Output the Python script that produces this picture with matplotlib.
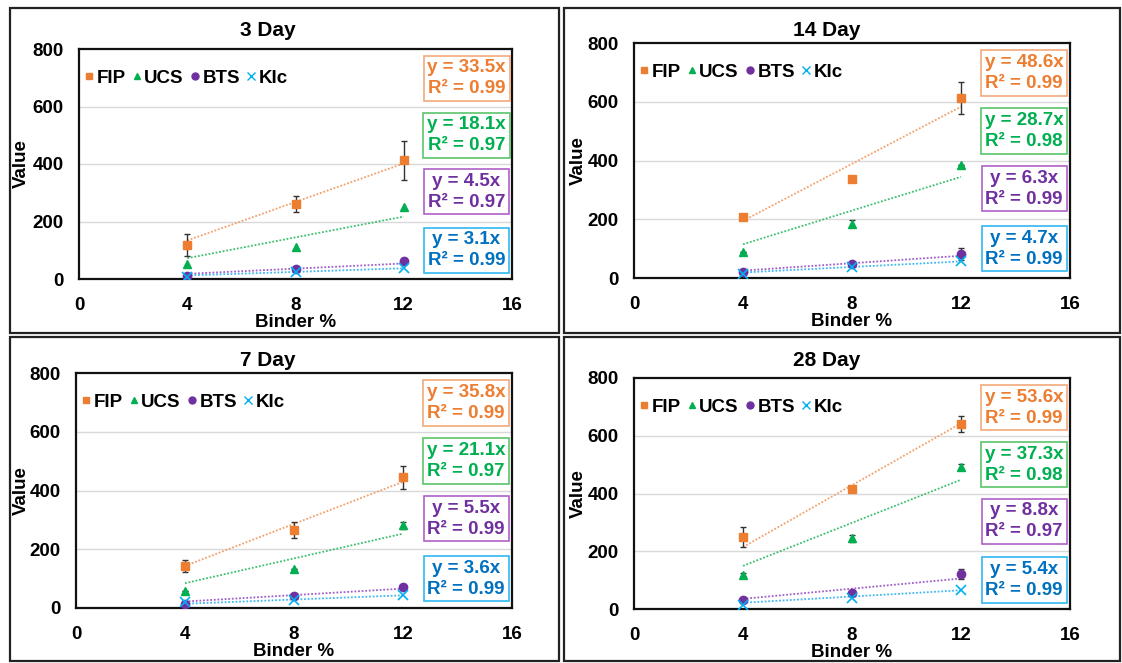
import matplotlib
matplotlib.use("Agg")
import matplotlib.pyplot as plt
from matplotlib.patches import Rectangle
from matplotlib.lines import Line2D

plt.rcParams['font.family'] = ['Liberation Sans', 'DejaVu Sans']
plt.rcParams['font.weight'] = 'bold'

W, H = 1122, 663

binder = [4, 8, 12]
legend_labels = ["FIP", "UCS", "BTS", "KIc"]

titles = ["3 Day", "14 Day", "7 Day", "28 Day"]

fip_3 = [119, 262, 413]
fip_3_err = [39, 28, 67]
ucs_3 = [52, 110, 249]
ucs_3_err = [0, 0, 0]
bts_3 = [12, 35, 61]
bts_3_err = [0, 0, 0]
kic_3 = [6, 23, 38]
slopes_3 = [33.5, 18.1, 4.5, 3.1]
r2_3 = [0.99, 0.97, 0.97, 0.99]

fip_14 = [207, 337, 613]
fip_14_err = [8, 0, 55]
ucs_14 = [87, 184, 384]
ucs_14_err = [0, 12, 0]
bts_14 = [20, 49, 82]
bts_14_err = [0, 0, 20]
kic_14 = [15, 36, 57]
slopes_14 = [48.6, 28.7, 6.3, 4.7]
r2_14 = [0.99, 0.98, 0.99, 0.99]

fip_7 = [144, 266, 445]
fip_7_err = [20, 28, 40]
ucs_7 = [59, 134, 282]
ucs_7_err = [0, 0, 12]
bts_7 = [15, 40, 73]
bts_7_err = [0, 0, 0]
kic_7 = [19, 28, 43]
slopes_7 = [35.8, 21.1, 5.5, 3.6]
r2_7 = [0.99, 0.97, 0.99, 0.99]

fip_28 = [250, 417, 641]
fip_28_err = [35, 8, 27]
ucs_28 = [119, 245, 493]
ucs_28_err = [5, 12, 10]
bts_28 = [30, 56, 121]
bts_28_err = [0, 0, 18]
kic_28 = [14, 38, 67]
slopes_28 = [53.6, 37.3, 8.8, 5.4]
r2_28 = [0.99, 0.98, 0.97, 0.99]

panels = [
    dict(title=titles[0], vals=[fip_3, ucs_3, bts_3, kic_3],
         errs=[fip_3_err, ucs_3_err, bts_3_err, None], slopes=slopes_3, r2=r2_3,
         frame=(10, 8, 559, 333), ax=(79, 49, 512, 279), tpos=(268, 31), ylx=30),
    dict(title=titles[1], vals=[fip_14, ucs_14, bts_14, kic_14],
         errs=[fip_14_err, ucs_14_err, bts_14_err, None], slopes=slopes_14, r2=r2_14,
         frame=(564, 8, 1120, 333), ax=(634, 43, 1070, 278), tpos=(827, 30), ylx=587),
    dict(title=titles[2], vals=[fip_7, ucs_7, bts_7, kic_7],
         errs=[fip_7_err, ucs_7_err, bts_7_err, None], slopes=slopes_7, r2=r2_7,
         frame=(10, 337, 559, 661), ax=(76, 373, 512, 608), tpos=(268, 360), ylx=30),
    dict(title=titles[3], vals=[fip_28, ucs_28, bts_28, kic_28],
         errs=[fip_28_err, ucs_28_err, bts_28_err, None], slopes=slopes_28, r2=r2_28,
         frame=(564, 337, 1120, 661), ax=(634, 378, 1070, 609), tpos=(827, 360), ylx=587),
]

marker_colors = ["#ED7D31", "#00B050", "#7030A0", "#00B0F0"]
trend_colors = ["#F4A06A", "#3CC070", "#A060C8", "#40B8F0"]
text_colors = ["#ED7D31", "#00B050", "#7030A0", "#0070C0"]
box_edges = ["#F4A97A", "#5CC46A", "#B060C8", "#30B8F0"]
markers = ["s", "^", "o", "x"]
box_y = [0.872, 0.625, 0.38, 0.125]

fig = plt.figure(figsize=(W / 100, H / 100), dpi=100)


def fx(x):
    return x / W


def fy(y):
    return 1 - y / H


for p in panels:
    x0, y0, x1, y1 = p["frame"]
    fig.patches.append(Rectangle((fx(x0), fy(y1)), fx(x1) - fx(x0), fy(y0) - fy(y1),
                                 transform=fig.transFigure, fill=False,
                                 edgecolor="#222222", linewidth=1.6))
    ax0, ay0, ax1, ay1 = p["ax"]
    ax = fig.add_axes([fx(ax0), fy(ay1), fx(ax1) - fx(ax0), fy(ay0) - fy(ay1)])
    ax.set_xlim(0, 16)
    ax.set_ylim(0, 800)
    ax.set_xticks([0, 4, 8, 12, 16])
    ax.set_yticks([0, 200, 400, 600, 800])
    ax.tick_params(length=0, labelsize=13.5)
    ax.tick_params(axis="x", pad=13)
    ax.tick_params(axis="y", pad=11)
    for lab in ax.get_xticklabels() + ax.get_yticklabels():
        lab.set_fontweight("bold")
    for s in ax.spines.values():
        s.set_color("#111111")
        s.set_linewidth(1.6)
    for gy in [200, 400, 600]:
        ax.axhline(gy, color="#D9D9D9", lw=1.0, zorder=0)

    handles = []
    for i in range(4):
        vals = p["vals"][i]
        slope = p["slopes"][i]
        ax.plot([binder[0], binder[-1]], [slope * binder[0], slope * binder[-1]],
                linestyle=(0, (1, 1)), color=trend_colors[i], lw=1.3, zorder=2)
        errs = p["errs"][i]
        if errs is not None and any(e > 0 for e in errs):
            ax.errorbar(binder, vals, yerr=errs, fmt="none", ecolor="#333333",
                        elinewidth=1.0, capsize=2.5, capthick=1.0, zorder=3)
        if markers[i] == "x":
            ax.plot(binder, vals, linestyle="none", marker="x", color=marker_colors[i],
                    markersize=7, markeredgewidth=1.2, zorder=4)
            h = Line2D([], [], linestyle="none", marker="x", color=marker_colors[i],
                       markersize=6, markeredgewidth=1.0)
        else:
            ax.plot(binder, vals, linestyle="none", marker=markers[i], color=marker_colors[i],
                    markersize=6, zorder=4)
            h = Line2D([], [], linestyle="none", marker=markers[i], color=marker_colors[i],
                       markersize=5)
        handles.append(h)

        txt = f"y = {slope}x\nR\u00b2 = {p['r2'][i]:.2f}"
        ax.text(0.895, box_y[i], txt, transform=ax.transAxes, ha="center", va="center",
                color=text_colors[i], fontsize=13.5, fontweight="bold", linespacing=1.3,
                zorder=6,
                bbox=dict(boxstyle="square,pad=0.2", facecolor="white",
                          edgecolor=box_edges[i], linewidth=1.2))

    axw = ax1 - ax0
    axh = ay1 - ay0
    ax.legend(handles, legend_labels, loc="center left", ncol=4, frameon=False,
              handlelength=0.5, handletextpad=0.15, columnspacing=0.35,
              borderaxespad=0.0, borderpad=0.0, prop=dict(size=13.5, weight="bold"),
              bbox_to_anchor=(0.012, (ay1 - (ay0 + 29)) / axh))

    fig.text(fx(p["tpos"][0]), fy(p["tpos"][1]), p["title"], ha="center", va="center",
             fontsize=15, fontweight="bold")
    ax.set_xlabel("Binder %", fontsize=13.5, fontweight="bold")
    ax.set_ylabel("Value", fontsize=13.5, fontweight="bold")
    ax.xaxis.set_label_coords(0.5, -35 / axh)
    ax.yaxis.set_label_coords(-(ax0 - p["ylx"]) / axw, 0.5)

fig.savefig("out.png", dpi=100)
